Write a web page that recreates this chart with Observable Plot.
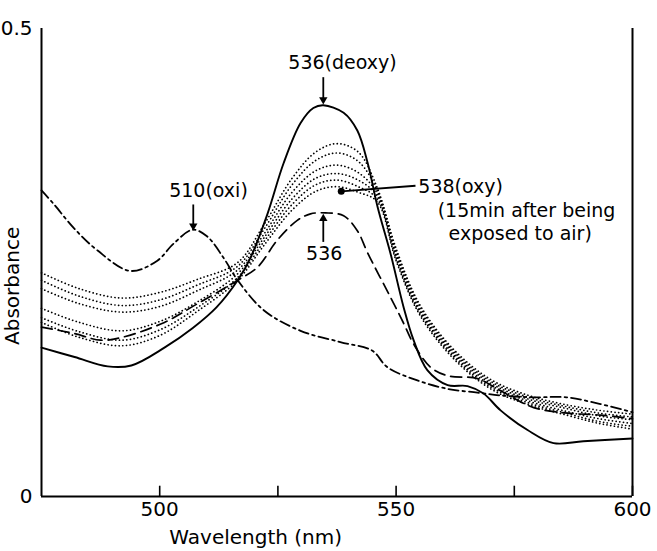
<!DOCTYPE html>
<html><head><meta charset="utf-8">
<script src="https://cdn.jsdelivr.net/npm/d3@7"></script>
<script src="https://cdn.jsdelivr.net/npm/@observablehq/plot@0.6"></script>
<style>body{margin:0;background:#fff} #chart svg{font-family:"DejaVu Sans",sans-serif}</style>
</head><body><div id="chart"></div>
<script>
// ---- data (wavelength nm, absorbance) ----
const deoxyNm = [475,482,489,494,501,507,512,516.5,519.2,522.8,526.2,529.8,532.5,534.6,538.9,541.8,544,546.1,548.8,551.6,553.7,556.6,560.9,565.1,568.5,572.1,577.8,583.3,589.6,600];
const deoxyA  = [0.159,0.149,0.139,0.140,0.159,0.180,0.202,0.231,0.255,0.302,0.356,0.399,0.415,0.418,0.410,0.391,0.356,0.309,0.260,0.202,0.167,0.135,0.119,0.118,0.110,0.092,0.071,0.057,0.059,0.062];

const dashNm = [475,482,487.5,492,501,508,516.5,520.7,524.9,529.1,531.9,535.1,538.9,541.8,544,548.8,551.6,553.7,557.3,560.9,567.2,572.1,579.1,586.3,593.2,600];
const dashA  = [0.181,0.174,0.167,0.170,0.186,0.206,0.231,0.245,0.274,0.295,0.302,0.303,0.300,0.284,0.260,0.213,0.185,0.163,0.138,0.129,0.126,0.113,0.095,0.089,0.087,0.083];

const oxiNm = [475,477.5,481.8,486.8,493.8,499.5,502.9,507,510,513.5,516.5,522,529.8,538.2,544.9,548.2,554.5,560.9,567.2,572,579,586,593,600];
const oxiA  = [0.327,0.313,0.287,0.263,0.241,0.252,0.270,0.285,0.278,0.255,0.231,0.199,0.177,0.165,0.156,0.138,0.124,0.115,0.111,0.108,0.106,0.106,0.099,0.090];

const dotNm = [475,483,492,500,508,516.5,522,528,533,537.5,542,546,550,555,562,570,578,586,593,600];
const dot1 = [0.239,0.222,0.212,0.218,0.232,0.250,0.290,0.340,0.368,0.377,0.368,0.330,0.265,0.205,0.158,0.125,0.108,0.098,0.092,0.088];
const dot2 = [0.231,0.214,0.204,0.210,0.226,0.246,0.285,0.333,0.359,0.367,0.358,0.327,0.262,0.203,0.156,0.123,0.106,0.096,0.089,0.085];
const dot3 = [0.222,0.206,0.197,0.203,0.220,0.242,0.280,0.325,0.348,0.354,0.346,0.324,0.259,0.200,0.154,0.121,0.104,0.094,0.086,0.082];
const dot4 = [0.201,0.186,0.177,0.187,0.208,0.238,0.276,0.318,0.340,0.345,0.338,0.321,0.257,0.198,0.152,0.119,0.102,0.091,0.083,0.078];
const dot5 = [0.191,0.176,0.167,0.178,0.202,0.234,0.272,0.312,0.333,0.338,0.331,0.318,0.254,0.196,0.150,0.117,0.100,0.089,0.080,0.075];
const dot6 = [0.186,0.170,0.161,0.172,0.198,0.231,0.268,0.306,0.326,0.331,0.325,0.315,0.252,0.194,0.148,0.115,0.098,0.087,0.078,0.072];

const xTicks = [500,525,550,575,600];
const xTickLabels = [500,550,600];
const yTickLabels = [0,0.5];

// annotations (positions in data units)
const notesStart = [
  {text:"536(deoxy)", nm:527.2, A:0.463},
  {text:"510(oxi)", nm:502.0, A:0.326},
  {text:"538(oxy)", nm:554.7, A:0.331},
  {text:"(15min after being", nm:558.8, A:0.305},
  {text:"exposed to air)", nm:561.1, A:0.281}
];
const notesMiddle = [
  {text:"536", nm:534.8, A:0.259}
];
const arrows = [
  {x1:534.6, y1:0.448, x2:534.6, y2:0.424, dir:180},
  {x1:507.1, y1:0.312, x2:507.1, y2:0.289, dir:180},
  {x1:534.6, y1:0.272, x2:534.6, y2:0.297, dir:0}
];
const pointer = {x1:538.4, y1:0.326, x2:554.1, y2:0.332};

const rows = (nm, a) => nm.map((x,i)=>({nm:x, A:a[i]}));
const dotted = [dot1,dot2,dot3,dot4,dot5,dot6];
const FS = 20, NS = 19;

const marks = [
  Plot.ruleX([475,600],{y1:0, y2:0.5, stroke:"black", strokeWidth:2}),
  Plot.ruleY([0],{x1:475, x2:600, stroke:"black", strokeWidth:2}),
  Plot.ruleX(xTicks,{y1:0, y2:0.011, stroke:"black", strokeWidth:1.6}),
  Plot.axisX({ticks:xTickLabels, tickSize:0, tickPadding:5, fontSize:FS, label:null}),
  Plot.axisY({ticks:yTickLabels, tickSize:0, tickPadding:9, fontSize:FS, label:null, tickFormat:d=>d===0?"0":"0.5"}),
  Plot.text(["Wavelength (nm)"],{x:520.3, y:0, dy:41, fontSize:FS, textAnchor:"middle"}),
  Plot.text(["Absorbance"],{frameAnchor:"left", y:0.225, dx:-29, rotate:-90, fontSize:FS, textAnchor:"middle"}),
  Plot.line(rows(deoxyNm,deoxyA),{x:"nm", y:"A", curve:"catmull-rom", stroke:"black", strokeWidth:1.9}),
  Plot.line(rows(dashNm,dashA),{x:"nm", y:"A", curve:"catmull-rom", stroke:"black", strokeWidth:1.7, strokeDasharray:"11,6"}),
  Plot.line(rows(oxiNm,oxiA),{x:"nm", y:"A", curve:"catmull-rom", stroke:"black", strokeWidth:1.8, strokeDasharray:"10,4,2.5,4"}),
  ...dotted.map(d => Plot.line(rows(dotNm,d),{x:"nm", y:"A", curve:"catmull-rom", stroke:"black", strokeWidth:1.7, strokeDasharray:"0.1,3.6", strokeLinecap:"round"})),
  Plot.text(notesStart,{x:"nm", y:"A", text:"text", textAnchor:"start", fontSize:NS}),
  Plot.text(notesMiddle,{x:"nm", y:"A", text:"text", textAnchor:"middle", fontSize:NS}),
  Plot.link(arrows,{x1:"x1", y1:"y1", x2:"x2", y2:"y2", stroke:"black", strokeWidth:1.8}),
  Plot.dot(arrows,{x:"x2", y:"y2", symbol:"triangle2", r:4, fill:"black", rotate:"dir"}),
  Plot.link([pointer],{x1:"x1", y1:"y1", x2:"x2", y2:"y2", stroke:"black", strokeWidth:1.8}),
  Plot.dot([pointer],{x:"x1", y:"y1", r:3.5, fill:"black"})
];

const chart = Plot.plot({
  width:657, height:551,
  marginLeft:41, marginRight:25, marginTop:28, marginBottom:55,
  x:{domain:[475,600]},
  y:{domain:[0,0.5]},
  style:{fontFamily:"'DejaVu Sans', sans-serif", fontSize:"20px", color:"black", background:"white"},
  marks
});
document.getElementById("chart").append(chart);
</script>
</body></html>
